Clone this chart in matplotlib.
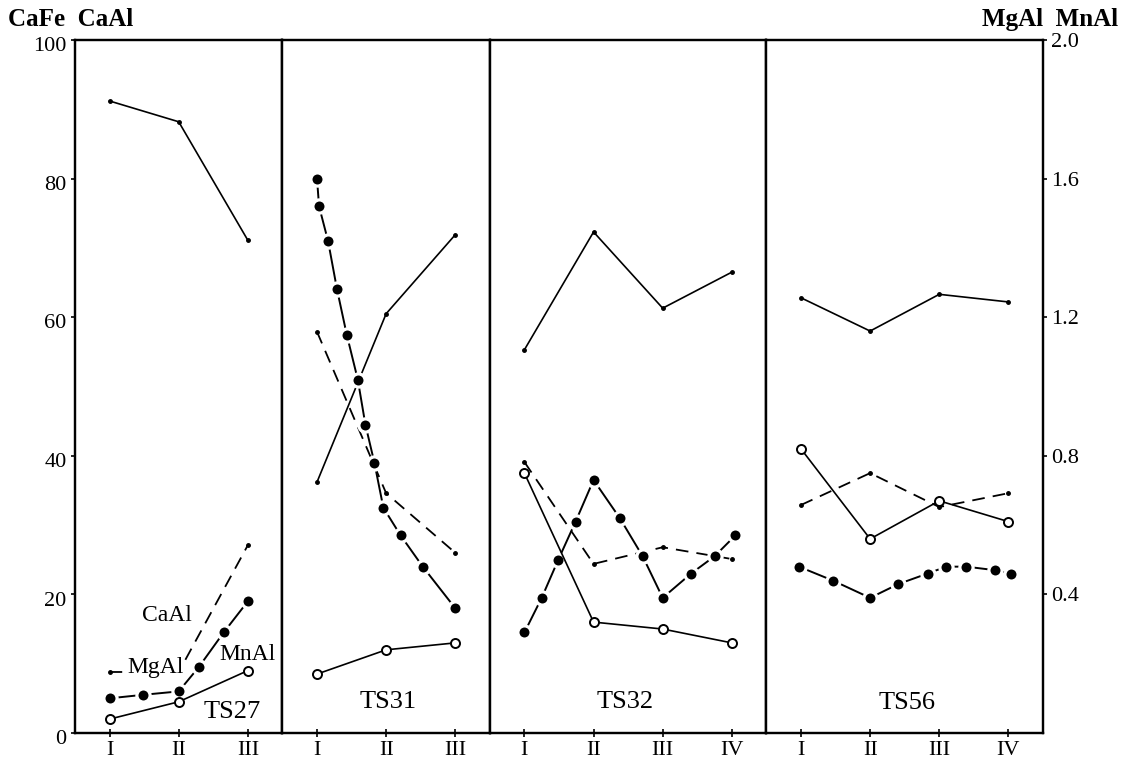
import matplotlib.pyplot as plt
from matplotlib.transforms import ScaledTranslation

plt.rcParams['font.family'] = ['Liberation Serif', 'DejaVu Serif']

# panel names and category labels
panels = ["TS27", "TS31", "TS32", "TS56"]
roman = ["I", "II", "III", "IV"]
n_stages = [3, 3, 4, 4]

# CaFe (solid, left axis) and CaAl (dashed, left axis), one value per stage
cafe = [
    [91.2, 88.2, 71.1],
    [36.2, 60.5, 71.9],
    [55.3, 72.3, 61.3, 66.5],
    [62.8, 58.0, 63.3, 62.2],
]
caal = [
    [8.8, 8.8, 27.1],
    [57.9, 34.6, 26.0],
    [39.1, 24.4, 26.8, 25.1],
    [32.9, 37.5, 32.6, 34.6],
]

# MgAl (filled circles, right axis) - points drawn along the profile
mgal_x = [
    [1, 1.48, 2, 2.29, 2.65, 3],
    [1, 1.03, 1.16, 1.29, 1.43, 1.59, 1.70, 1.83, 1.96, 2.21, 2.53, 3],
    [1, 1.25, 1.49, 1.74, 2, 2.38, 2.71, 3, 3.41, 3.75, 4.05],
    [0.97, 1.46, 2, 2.41, 2.83, 3.1, 3.39, 3.8, 4.04],
]
mgal = [
    [0.10, 0.11, 0.12, 0.19, 0.29, 0.38],
    [1.60, 1.52, 1.42, 1.28, 1.15, 1.02, 0.89, 0.78, 0.65, 0.57, 0.48, 0.36],
    [0.29, 0.39, 0.50, 0.61, 0.73, 0.62, 0.51, 0.39, 0.46, 0.51, 0.57],
    [0.48, 0.44, 0.39, 0.43, 0.46, 0.48, 0.48, 0.47, 0.46],
]

# MnAl (open circles, right axis)
mnal = [
    [0.04, 0.09, 0.18],
    [0.17, 0.24, 0.26],
    [0.75, 0.32, 0.30, 0.26],
    [0.82, 0.56, 0.67, 0.61],
]

left_ticks = [0, 20, 40, 60, 80, 100]
right_ticks = [0.4, 0.8, 1.2, 1.6, 2.0]

fig = plt.figure(figsize=(11.21, 7.62), dpi=100)
gs = fig.add_gridspec(1, 4, width_ratios=n_stages, left=0.0669, right=0.9304,
                      bottom=0.0381, top=0.9475, wspace=0)

label_pos = [(0.76, 0.03), (0.51, 0.045), (0.49, 0.045), (0.51, 0.043)]
shift_down = ScaledTranslation(0, -3 / 72, fig.dpi_scale_trans)

for i, name in enumerate(panels):
    n = n_stages[i]
    xs = list(range(1, n + 1))
    ax = fig.add_subplot(gs[0, i])
    ax2 = ax.twinx()
    ax.set_xlim(0.5, n + 0.5)
    ax.set_ylim(0, 100)
    ax2.set_ylim(0, 2.0)

    ax.plot(xs, cafe[i], color="black", lw=1.2, marker="o", ms=2.5)
    ax.plot(xs, caal[i], color="black", lw=1.3, ls=(0, (7, 4.5)), marker="o", ms=2.5)
    ax2.plot(mgal_x[i], mgal[i], color="black", lw=1.4, marker="o", ms=9.5,
             mfc="black", mec="white", mew=2.3)
    ax2.plot(xs, mnal[i], color="black", lw=1.2, marker="o", ms=6.5,
             mfc="white", mec="black", mew=1.4)

    for a in (ax, ax2):
        for s in a.spines.values():
            s.set_linewidth(1.6)
    ax.set_xticks(xs)
    ax.set_xticklabels(roman[:n], fontsize=16)
    ax.tick_params(axis="x", direction="inout", length=6, width=1.2, pad=3)
    ax2.set_yticks([])
    if i == 0:
        ax.set_yticks(left_ticks)
        ax.tick_params(axis="y", direction="out", length=3, width=1.2, labelsize=16, pad=3)
        for lab in ax.get_yticklabels():
            lab.set_transform(lab.get_transform() + shift_down)
    else:
        ax.set_yticks([])
    if i == 3:
        ax2.set_yticks(right_ticks)
        ax2.set_yticklabels([f"{t:.1f}" for t in right_ticks])
        ax2.tick_params(axis="y", direction="out", length=3, width=1.2, labelsize=16, pad=3)

    lx, ly = label_pos[i]
    ax.text(lx, ly, name, transform=ax.transAxes, ha="center", va="center", fontsize=19)

    if i == 0:
        box = dict(facecolor="white", edgecolor="none", pad=0.5)
        ax.text(1.83, 17.0, "CaAl", ha="center", va="center", fontsize=17, bbox=box, zorder=5)
        ax.text(1.66, 9.4, "MgAl", ha="center", va="center", fontsize=17, bbox=box, zorder=5)
        ax.text(3.0, 11.3, "MnAl", ha="center", va="center", fontsize=17, bbox=box, zorder=5)

fig.text(0.007, 0.974, "CaFe  CaAl", ha="left", va="center", fontsize=18, fontweight="bold")
fig.text(0.997, 0.974, "MgAl  MnAl", ha="right", va="center", fontsize=18, fontweight="bold")

plt.savefig("out.png", dpi=100)
